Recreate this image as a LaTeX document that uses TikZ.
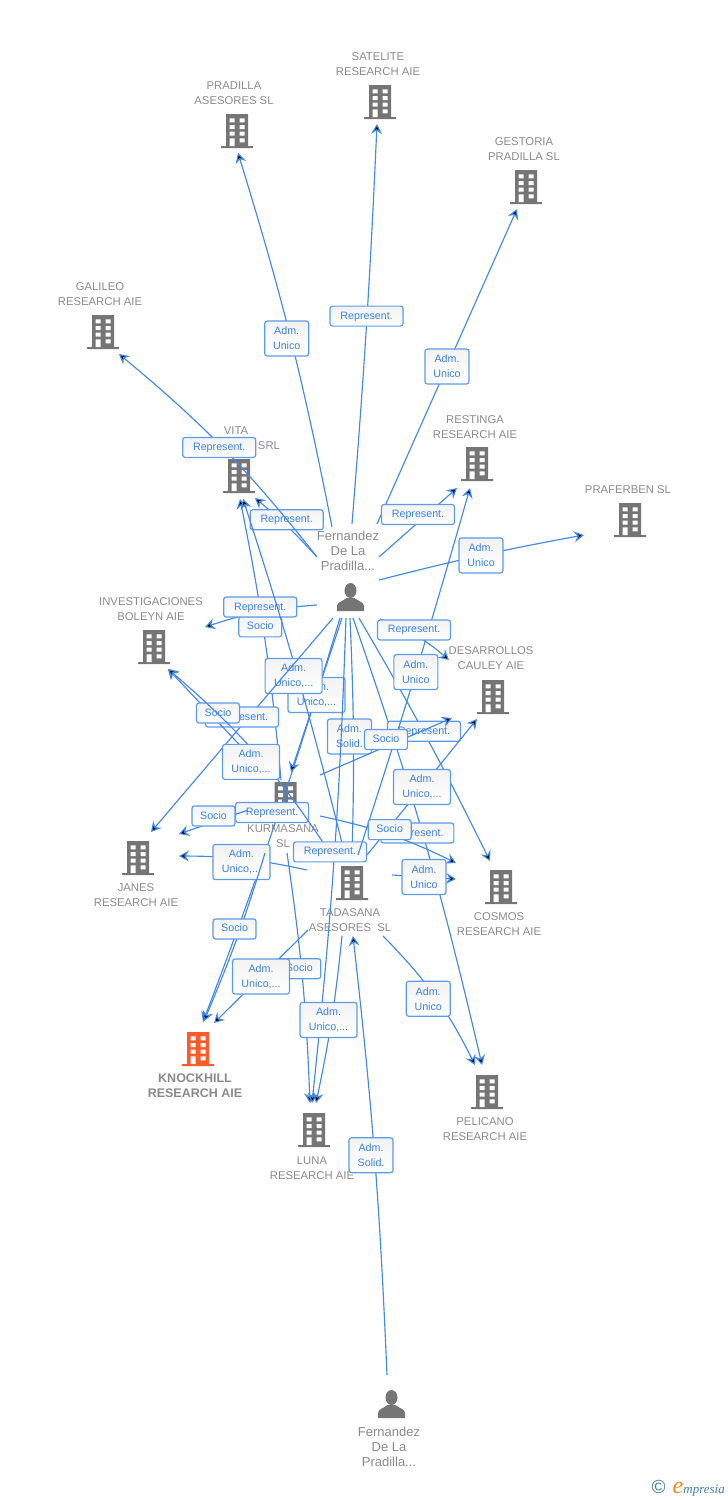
\documentclass[tikz,border=0pt]{standalone}
\usepackage{fontspec}
\setmainfont{Liberation Sans}
\newfontfamily\logofont{Liberation Serif}
\usetikzlibrary{arrows.meta}
\definecolor{linkblue}{HTML}{4388E4}
\definecolor{boxblue}{HTML}{5C9BE8}
\definecolor{relblue}{HTML}{3C82E0}
\definecolor{firmgray}{HTML}{757575}
\definecolor{namegray}{HTML}{8A8A8A}
\definecolor{mainorange}{HTML}{FF5A2A}
\definecolor{logoblue}{HTML}{3F7F9F}
\definecolor{logoorange}{HTML}{F08A1E}
\tikzset{
  firm icon/.pic={
    \fill[pic actions] (-11,0) rectangle (11,32) (-16,32) rectangle (16,34);
    \foreach \wy in {4.3,11,17.7}
      \fill[white] (-7.5,\wy) rectangle +(5,4) (2.5,\wy) rectangle +(5,4);
    \fill[white] (-7.5,24.3) rectangle (-2.5,32) (2.5,24.3) rectangle (7.5,28.3);
  },
  person icon/.pic={
    \fill[pic actions] (0,7.5) ellipse (6 and 7.5);
    \fill[pic actions] (-13.5,28) -- (-13.5,23) .. controls (-13.5,19) and (-8,18.5) .. (-4,15)
      -- (4,15) .. controls (8,18.5) and (13.5,19) .. (13.5,23) -- (13.5,28) -- cycle;
  }
}
\begin{document}
\begin{tikzpicture}[x=1pt,y=-1pt,
    link/.style={draw=linkblue,line width=1.15pt},
    arrowed/.style={-{Stealth[length=10pt,width=11pt,inset=3.5pt]}},
    name node/.style={inner sep=0pt,align=center,text=namegray,font=\fontsize{11.3}{15}\selectfont},
    person node/.style={inner sep=0pt,align=center,text=namegray,font=\fontsize{13}{15}\selectfont},
    rel/.style={draw=boxblue,line width=1.2pt,rounded corners=2.5pt,top color=black!5,bottom color=white,
      inner sep=0pt,align=center,text=relblue,font=\fontsize{10.7}{15}\selectfont},
    rep/.style={rel,minimum width=73pt,minimum height=20pt,text height=7.5pt,text depth=1.5pt},
    soc/.style={rel,minimum width=43pt,minimum height=20pt,text height=7.5pt,text depth=1.5pt},
    two/.style={rel,minimum width=44pt,minimum height=35pt},
    three/.style={rel,minimum width=57pt,minimum height=35pt}
  ]
  \useasboundingbox (0,0) rectangle (728,1500);

  % firms
  \foreach \fname/\fx/\fy in {pradilla/237/114,satelite/380/85,gestoria/526/170,galileo/103/315,
      vita/239/459,restinga/477/447,praferben/630/503,investig/154/630,desarrollos/493/680,
      kurmasana/285.5/782,janes/138/841,tadasana/352/866,cosmos/501/870,luna/314/1113,pelicano/487/1075}
    \pic[fill=firmgray] (\fname-icon) at (\fx,\fy) {firm icon};
  \pic[fill=mainorange] (knockhill-icon) at (198,1032) {firm icon};
  \pic[fill=firmgray] (fer-icon) at (350.5,583) {person icon};
  \pic[fill=firmgray] (fer2-icon) at (391.5,1390) {person icon};

  \node[name node] (pradilla) at (234,93) {PRADILLA\\ASESORES SL};
  \node[name node] (satelite) at (378,64) {SATELITE\\RESEARCH AIE};
  \node[name node] (gestoria) at (524,149) {GESTORIA\\PRADILLA SL};
  \node[name node] (galileo) at (100,294) {GALILEO\\RESEARCH AIE};
  \node[name node] (vita) at (236,438) {VITA\\\phantom{RESEARCH }SRL};
  \node[name node] (restinga) at (475,427) {RESTINGA\\RESEARCH AIE};
  \node[name node] (praferben) at (628,489.5) {PRAFERBEN SL};
  \node[name node] (investig) at (151,609) {INVESTIGACIONES\\BOLEYN AIE};
  \node[name node] (desarrollos) at (491,658) {DESARROLLOS\\CAULEY AIE};
  \node[name node] (kurmasana) at (283,836) {KURMASANA\\SL};
  \node[name node] (janes) at (136,895) {JANES\\RESEARCH AIE};
  \node[name node] (tadasana) at (350,920) {TADASANA\\ASESORES\ \ SL};
  \node[name node] (cosmos) at (499,924) {COSMOS\\RESEARCH AIE};
  \node[name node,font=\fontsize{12.5}{15}\selectfont\bfseries] (knockhill) at (195,1086) {KNOCKHILL\\RESEARCH AIE};
  \node[name node] (lunaname) at (312,1168) {LUNA\\RESEARCH AIE};
  \node[name node] (pelicano) at (485,1129) {PELICANO\\RESEARCH AIE};
  \node[person node] (fer) at (348,550.5) {Fernandez\\De La\\Pradilla...};
  \node[person node] (fer2) at (389,1446.5) {Fernandez\\De La\\Pradilla...};

  % free ends of the links, source-target and target-source
  \foreach \ename/\ex/\ey in {fer-pradilla/332/527,pradilla-fer/238/153,fer-satelite/352/524,satelite-fer/377/124,
      fer-gestoria/377/524,gestoria-fer/517/209,fer-galileo/317/557,galileo-fer/119/354,
      fer-vita/316/556,vita-fer/255/498,fer-restinga/379/557,restinga-fer/457/488,
      fer-praferben/379/580,praferben-fer/584/535,fer-investig/317/605,investig-fer/205/627,
      kurm-vita/281/780,vita-kurm/240/499,tad-vita/345/855,vita-tad/243/499,
      fer-janes/333/618,janes-fer/151/832,kurm-investig/268/775,investig-kurm/168/669,
      tad-investig/330/853,investig-tad/168/669,fer-knock/340/618,knock-fer/203/1022,
      tad-janes/307/870,janes-tad/179/856,kurm-knock/265/853,knock-kurm/204/1021,
      kurm-janes/248/810,janes-kurm/179/834,tad-knock/308/930,knock-tad/214/1023,
      tad-luna/342/936,luna-tad/316/1103,kurm-luna/287/853,luna-kurm/310/1103,
      fer-luna/346/618,luna-fer/312/1103,fer-tad/350/618,tad-fer/352/855,
      fer-pelicano/353/618,pelicano-fer/482/1065,fer-cosmos/359/618,cosmos-fer/490/861,
      fer-desarrollos/380/619,desarrollos-fer/449/660,tad-restinga/358/855,restinga-tad/470/488,
      tad-desarrollos/367/855,desarrollos-tad/477/719,kurm-desarrollos/320/775,desarrollos-kurm/452/718,
      kurm-cosmos/320/816,cosmos-kurm/456/863,tad-cosmos/392/875,cosmos-tad/456/879,
      tad-pelicano/383/936,pelicano-tad/475/1065,fer2-tad/387/1375,tad-fer2/353/936,
      fer-kurm/342/618,kurm-fer/291/772}
    \coordinate (\ename) at (\ex,\ey);

  \path[link,every edge/.append style={arrowed}]
    (fer-pradilla) edge[bend right=3] node[two,xshift=-4pt] (l1) {Adm.\\Unico} (pradilla-fer)
    (fer-satelite) edge[bend right=1] node[rep,yshift=8pt] (l2) {Represent.} (satelite-fer)
    (fer-gestoria) edge node[two] (l3) {Adm.\\Unico} (gestoria-fer)
    (fer-vita) edge[bend right=4] node[rep,yshift=6pt] (l4) {Represent.} (vita-fer)
    (fer-galileo) edge[bend right=6] node[rep,xshift=-5pt,yshift=2pt] (l5) {Represent.} (galileo-fer)
    (fer-restinga) edge node[rep,yshift=8pt] (l6) {Represent.} (restinga-fer)
    (fer-praferben) edge[bend left=2] node[two] (l7) {Adm.\\Unico} (praferben-fer)
    (kurm-vita) edge[bend right=3] node[soc,xshift=-4.5pt,yshift=12pt] (l8) {Socio} (vita-kurm)
    (fer-investig) edge[bend right=7] node[rep,yshift=5pt] (l9) {Represent.} (investig-fer)
    (fer-knock) edge[bend left=2] node[rep,xshift=-3.5pt,yshift=9pt] (l10) {Represent.} (knock-fer)
    (tad-janes) edge[bend right=6] node[three,xshift=-2pt,yshift=-3pt] (l11) {Adm.\\Unico,...} (janes-tad)
    (kurm-knock) edge[bend left=3] node[soc,xshift=-2.5pt,yshift=9pt] (l12) {Socio} (knock-kurm)
    (kurm-janes) edge node[soc,yshift=6pt] (l13) {Socio} (janes-kurm)
    (fer-kurm) edge node[three] (l14) {Adm.\\Unico,...} (kurm-fer)
    (tad-vita) edge[bend right=2] node[three,xshift=-4pt] (l15) {Adm.\\Unico,...} (vita-tad)
    (fer-janes) edge node[rep,yshift=8pt] (l16) {Represent.} (janes-fer)
    (kurm-investig) edge node[soc,yshift=9pt] (l17) {Socio} (investig-kurm)
    (tad-investig) edge[bend right=8] node[three,xshift=-5.5pt,yshift=-7.5pt] (l18) {Adm.\\Unico,...} (investig-tad)
    (kurm-luna) edge[bend left=3] node[soc,xshift=-3pt,yshift=9pt] (l19) {Socio} (luna-kurm)
    (tad-knock) edge node[three] (l20) {Adm.\\Unico,...} (knock-tad)
    (fer-tad) edge[bend left=2] node[two,xshift=-4pt] (l21) {Adm.\\Solid.} (tad-fer)
    (fer-luna) edge[bend left=2] node[rep,xshift=-4pt,yshift=9pt] (l22) {Represent.} (luna-fer)
    (fer2-tad) edge[bend right=2] node[two,xshift=-3.4pt] (l23) {Adm.\\Solid.} (tad-fer2)
    (tad-luna) edge[bend left=3] node[three,xshift=-3pt] (l24) {Adm.\\Unico,...} (luna-tad)
    (fer-pelicano) edge[bend left=3] node[rep,xshift=-7pt,yshift=6.5pt] (l25) {Represent.} (pelicano-fer)
    (fer-cosmos) edge[bend left=2] node[rep,xshift=-3pt,yshift=7pt] (l26) {Represent.} (cosmos-fer)
    (tad-restinga) edge[bend right=1] node[two] (l27) {Adm.\\Unico} (restinga-tad)
    (fer-desarrollos) edge[bend left=10] node[rep,xshift=-2.5pt,yshift=6pt] (l28) {Represent.} (desarrollos-fer)
    (kurm-desarrollos) edge node[soc,yshift=7pt] (l29) {Socio} (desarrollos-kurm)
    (tad-desarrollos) edge node[three] (l30) {Adm.\\Unico,...} (desarrollos-tad)
    (kurm-cosmos) edge[bend left=7] node[soc,yshift=5pt] (l31) {Socio} (cosmos-kurm)
    (tad-cosmos) edge node[two] (l32) {Adm.\\Unico} (cosmos-tad)
    (tad-pelicano) edge[bend left=9] node[two,xshift=-6.7pt,yshift=-2.5pt] (l33) {Adm.\\Unico} (pelicano-tad);

  \node[inner sep=0pt,anchor=base east] (logo) at (725,1493)
    {{\fontsize{19}{19}\selectfont\color{logoblue}©}\hspace{7pt}{\logofont\itshape\fontsize{24}{24}\selectfont\color{logoorange}e}{\logofont\itshape\fontsize{13}{13}\selectfont\color{logoblue}mpresia}};
\end{tikzpicture}
\end{document}
